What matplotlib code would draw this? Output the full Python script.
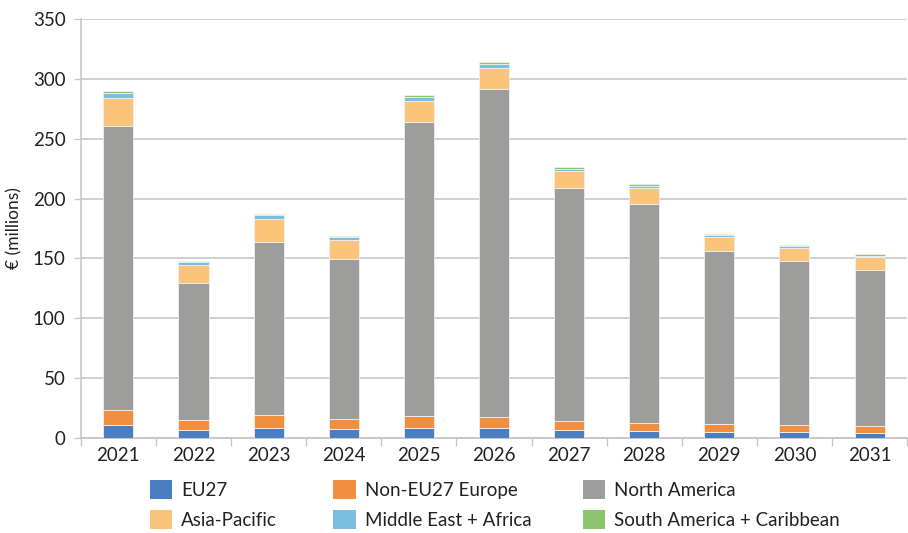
import numpy as np
import matplotlib
matplotlib.use('Agg')
import matplotlib.pyplot as plt
from matplotlib.patches import Patch

plt.rcParams['font.family'] = ['Lato', 'DejaVu Sans']

# Data (EUR millions)
years = ['2021', '2022', '2023', '2024', '2025', '2026', '2027', '2028', '2029', '2030', '2031']
eu27 = [10.7, 6.5, 8.2, 7.1, 8.2, 7.9, 6.0, 5.7, 4.9, 4.3, 4.0]
non_eu27 = [12.3, 7.9, 10.3, 8.4, 9.8, 9.5, 7.5, 6.7, 6.1, 5.9, 5.4]
north_america = [238.0, 114.8, 145.2, 133.7, 245.8, 274.6, 195.4, 183.4, 144.7, 137.6, 130.9]
asia_pacific = [22.9, 15.0, 19.0, 15.9, 18.1, 17.5, 13.9, 13.1, 11.7, 10.6, 10.4]
mid_east_africa = [4.4, 2.3, 3.1, 2.3, 2.8, 2.8, 1.9, 1.6, 1.7, 1.8, 1.4]
south_america = [1.4, 1.1, 1.1, 1.3, 1.9, 1.7, 1.7, 1.4, 1.1, 0.9, 1.1]

series = [
    ('EU27', eu27, '#4a7ec2'),
    ('Non-EU27 Europe', non_eu27, '#f28e3f'),
    ('North America', north_america, '#9d9d9b'),
    ('Asia-Pacific', asia_pacific, '#fbc47b'),
    ('Middle East + Africa', mid_east_africa, '#7bbfe0'),
    ('South America + Caribbean', south_america, '#8dc46d'),
]

fig = plt.figure(figsize=(9.08, 5.33), dpi=100)
ax = fig.add_axes([0.089, 0.179, 0.91, 0.785])

x = np.arange(len(years))
bottom = np.zeros(len(years))
for name, vals, col in series:
    ax.bar(x, vals, width=0.4, bottom=bottom, color=col, edgecolor='#f0f0f0',
           linewidth=0.6, zorder=3, label=name)
    bottom += np.array(vals)

ax.set_xlim(-0.5, len(years) - 0.5)
ax.set_ylim(0, 350)
ax.set_yticks(range(0, 351, 50))
ax.set_xticks(x)
ax.set_xticklabels(years)
ax.set_xticks(np.arange(-0.5, len(years)), minor=True)
ax.tick_params(axis='x', which='major', length=0, labelsize=13.5, pad=7, colors='#222222')
ax.tick_params(axis='x', which='minor', length=6, color='#c8c8c8', width=1)
ax.tick_params(axis='y', length=5, color='#c8c8c8', width=1, labelsize=13.5, pad=6)
ax.tick_params(axis='y', colors='#c8c8c8', labelcolor='#222222')

ax.grid(axis='y', color='#d0d0d0', linewidth=1.4, zorder=0)
for s in ['top', 'right']:
    ax.spines[s].set_visible(False)
ax.spines['left'].set_color('#c8c8c8')
ax.spines['bottom'].set_color('#c8c8c8')
ax.spines['left'].set_linewidth(1.2)
ax.spines['bottom'].set_linewidth(1.4)

ax.set_ylabel('€ (millions)', fontsize=12.5, color='#222222', labelpad=7)

# legend: three columns placed like the reference
cols = [(0.165, [0, 3]), (0.367, [1, 4]), (0.642, [2, 5])]
for xpos, idx in cols:
    handles = [Patch(facecolor=series[i][2], label=series[i][0]) for i in idx]
    leg = fig.legend(handles=handles, loc='upper left', bbox_to_anchor=(xpos, 0.0994),
                     frameon=False, fontsize=13.5, handlelength=1.2, handleheight=1.17,
                     handletextpad=0.48, labelspacing=0.58, borderaxespad=0, borderpad=0)
    for t in leg.get_texts():
        t.set_color('#222222')

fig.savefig('out.png', dpi=100)
